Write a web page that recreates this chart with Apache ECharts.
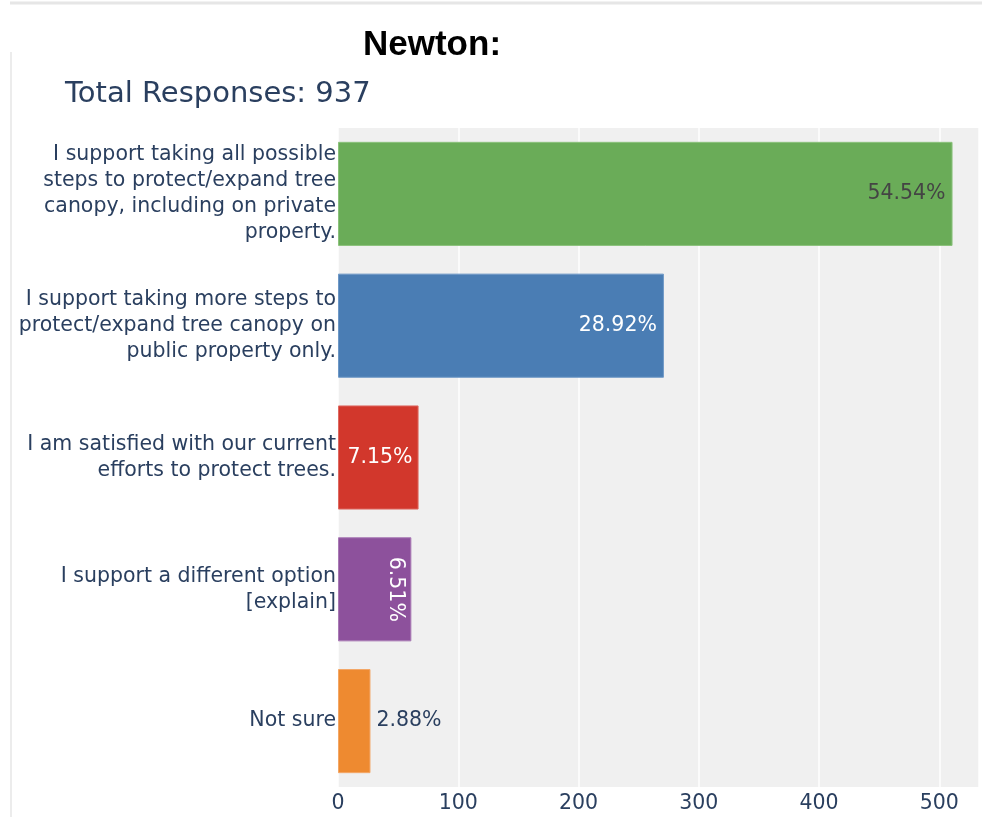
<!DOCTYPE html>
<html>
<head>
<meta charset="utf-8">
<script src="https://cdn.jsdelivr.net/npm/echarts@6/dist/echarts.min.js"></script>
<style>
html,body{margin:0;padding:0;background:#fff;}
#chart{width:982px;height:817px;}
</style>
</head>
<body>
<div id="chart"></div>
<script>
// ---- data ----
var categories = [
  'I support taking all possible\nsteps to protect/expand tree\ncanopy, including on private\nproperty.',
  'I support taking more steps to\nprotect/expand tree canopy on\npublic property only.',
  'I am satisfied with our current\nefforts to protect trees.',
  'I support a different option\n[explain]',
  'Not sure'
];
var counts = [511, 271, 67, 61, 27];
var percentLabels = ['54.54%', '28.92%', '7.15%', '6.51%', '2.88%'];
var xTicks = [0, 100, 200, 300, 400, 500];
var mainTitle = 'Newton:';
var subTitle = 'Total Responses: 937';

// ---- styles ----
var FONT = 'DejaVu Sans';
var barColors = ['#6aac58', '#4a7db4', '#d2372c', '#8d519c', '#ee8a30'];
var barBorders = ['#8cc27c', '#6e98c6', '#de6a62', '#a97bb5', '#f3a766'];
var labelStyles = [
  {position: 'insideRight', distance: 7, color: '#444444'},
  {position: 'insideRight', distance: 7, color: '#ffffff'},
  {position: 'insideRight', distance: 6, color: '#ffffff'},
  {position: ['78%', '50%'], rotate: -90, align: 'center', verticalAlign: 'middle', color: '#ffffff'},
  {position: 'right', distance: 6, color: '#2a3f5f'}
];

var seriesData = counts.map(function (v, i) {
  var ls = Object.assign({show: true, fontFamily: FONT, fontSize: 20.5}, labelStyles[i]);
  ls.formatter = percentLabels[i];
  return {
    value: v,
    itemStyle: {color: barColors[i], borderColor: barBorders[i], borderWidth: 1},
    label: ls
  };
});

var chart = echarts.init(document.getElementById('chart'), null, {renderer: 'canvas'});
chart.setOption({
  animation: false,
  backgroundColor: '#ffffff',
  title: [
    {text: mainTitle, left: 358, top: 23,
     textStyle: {fontFamily: 'Liberation Sans', fontWeight: 'bold', fontSize: 35, color: '#000000'}},
    {text: subTitle, left: 60, top: 75,
     textStyle: {fontFamily: FONT, fontWeight: 'normal', fontSize: 29, color: '#2a3f5f'}}
  ],
  graphic: [
    {type: 'line', shape: {x1: 10, y1: 3, x2: 982, y2: 3}, style: {stroke: '#e6e6e6', lineWidth: 3}},
    {type: 'line', shape: {x1: 11, y1: 52, x2: 11, y2: 817}, style: {stroke: '#ececec', lineWidth: 2}}
  ],
  grid: {
    left: 338, top: 128, right: 0, bottom: 30,
    show: true, backgroundColor: '#f0f0f0', borderWidth: 0
  },
  xAxis: {
    type: 'value',
    min: xTicks[0],
    max: 533,
    interval: 100,
    axisLine: {show: false},
    axisTick: {show: false},
    splitLine: {show: true, lineStyle: {color: '#ffffff', width: 1.5}},
    axisLabel: {
      margin: 6,
      fontFamily: FONT, fontSize: 20.5, color: '#2a3f5f',
      formatter: function (v) { return xTicks.indexOf(v) >= 0 ? String(v) : ''; }
    }
  },
  yAxis: {
    type: 'category',
    inverse: true,
    data: categories,
    axisLine: {show: false},
    axisTick: {show: false},
    splitLine: {show: false},
    axisLabel: {
      margin: 2,
      fontFamily: FONT, fontSize: 20.5, lineHeight: 26, color: '#2a3f5f', align: 'right'
    }
  },
  series: [{
    type: 'bar',
    data: seriesData,
    barCategoryGap: '21%'
  }]
});
</script>
</body>
</html>
